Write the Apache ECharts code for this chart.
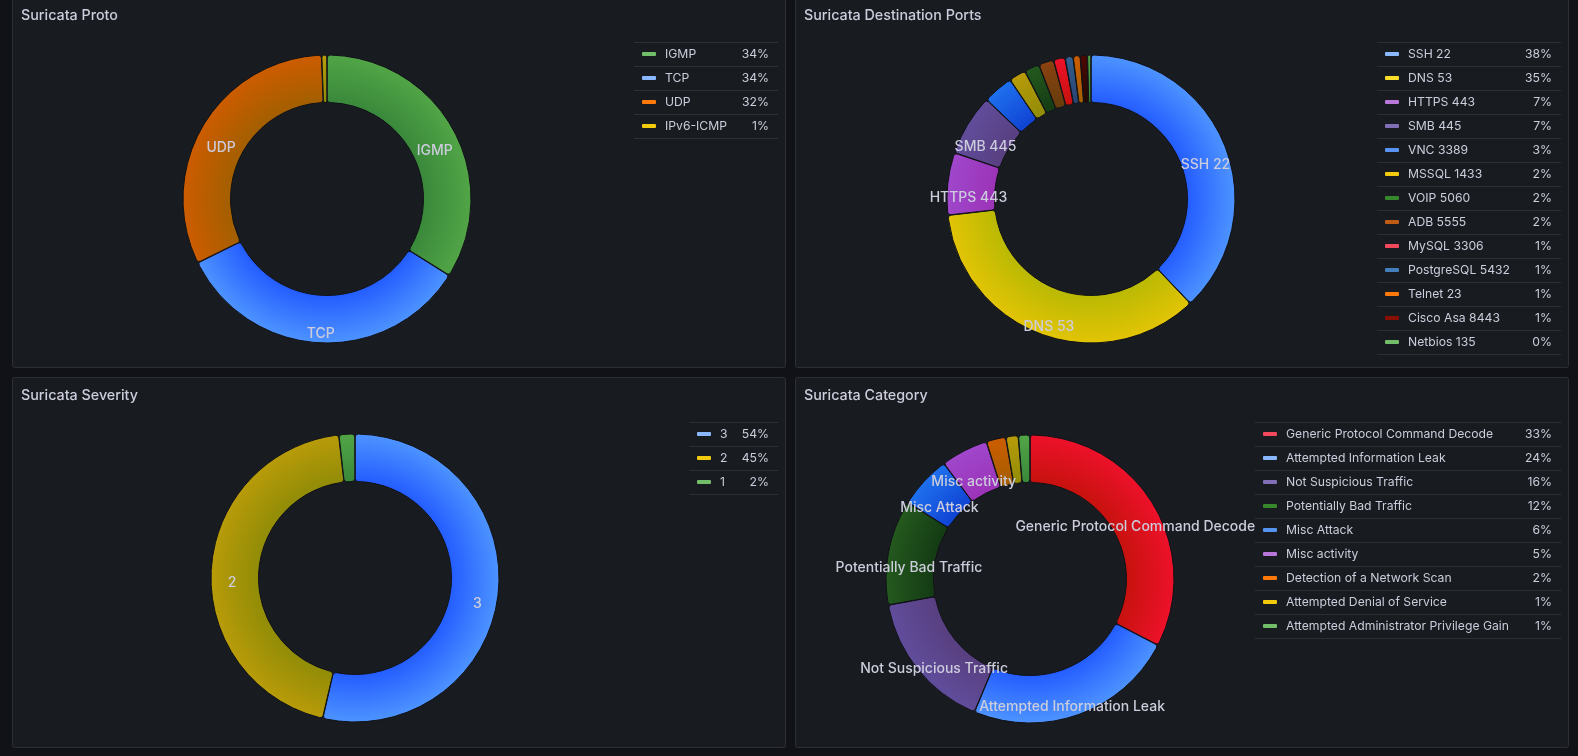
<!DOCTYPE html>
<html>
<head>
<meta charset="utf-8">
<title>Suricata</title>
<script src="https://cdn.jsdelivr.net/npm/echarts@6/dist/echarts.min.js"></script>
<style>
  html, body { margin: 0; padding: 0; background: #111217; }
  #main { width: 1578px; height: 756px; }
</style>
</head>
<body>
<div id="main"></div>
<script>
// ---- data ----
var protoNames = ['IGMP', 'TCP', 'UDP', 'IPv6-ICMP'];
var protoValues = [3390, 3380, 3170, 60];
var protoColors = ['#73BF69', '#8AB8FF', '#FF780A', '#F2CC0C'];

var portNames = ['SSH 22', 'DNS 53', 'HTTPS 443', 'SMB 445', 'VNC 3389', 'MSSQL 1433', 'VOIP 5060',
  'ADB 5555', 'MySQL 3306', 'PostgreSQL 5432', 'Telnet 23', 'Cisco Asa 8443', 'Netbios 135'];
var portValues = [379, 353, 70, 69, 34, 19, 17, 17, 13, 9, 8, 8, 4];
var portColors = ['#8AB8FF', '#FADE2A', '#B877D9', '#806EB7', '#5794F2', '#F2CC0C', '#37872D',
  '#C15C17', '#F2495C', '#447EBC', '#FF780A', '#890F02', '#73BF69'];

var severityNames = ['3', '2', '1'];
var severityValues = [536, 446, 18];
var severityColors = ['#8AB8FF', '#F2CC0C', '#73BF69'];

var categoryNames = ['Generic Protocol Command Decode', 'Attempted Information Leak', 'Not Suspicious Traffic',
  'Potentially Bad Traffic', 'Misc Attack', 'Misc activity', 'Detection of a Network Scan',
  'Attempted Denial of Service', 'Attempted Administrator Privilege Gain'];
var categoryValues = [326, 237, 158, 118, 59, 53, 22, 14, 13];
var categoryColors = ['#F2495C', '#8AB8FF', '#806EB7', '#37872D', '#5794F2', '#B877D9', '#FF780A', '#F2CC0C', '#73BF69'];

// ---- layout ----
var PANEL_W = 774, PANEL_H = 371;
var R_IN = 96.5, R_OUT = 144;
var TEXT = '#ccccdc';
var FONT = 'Inter, "Noto Sans", sans-serif';

var panels = [
  { title: 'Suricata Proto', x: 12, y: -3, names: protoNames, values: protoValues, colors: protoColors,
    cx: 327, cy: 199, lgLeft: 634, lgRight: 778, nameW: 64, pctW: 40 },
  { title: 'Suricata Destination Ports', x: 795, y: -3, names: portNames, values: portValues, colors: portColors,
    cx: 1091, cy: 199, lgLeft: 1377, lgRight: 1561, nameW: 104, pctW: 40 },
  { title: 'Suricata Severity', x: 12, y: 377, names: severityNames, values: severityValues, colors: severityColors,
    cx: 355, cy: 578, lgLeft: 689, lgRight: 778, nameW: 14, pctW: 35 },
  { title: 'Suricata Category', x: 795, y: 377, names: categoryNames, values: categoryValues, colors: categoryColors,
    cx: 1030, cy: 579, lgLeft: 1255, lgRight: 1561, nameW: 226, pctW: 40 }
];

// darken / spin like tinycolor, for the slice gradient
function shade(hex, darken, spin) {
  var r = parseInt(hex.substr(1, 2), 16) / 255, g = parseInt(hex.substr(3, 2), 16) / 255, b = parseInt(hex.substr(5, 2), 16) / 255;
  var max = Math.max(r, g, b), min = Math.min(r, g, b), h = 0, s = 0, l = (max + min) / 2, d = max - min;
  if (d > 0) {
    s = l > 0.5 ? d / (2 - max - min) : d / (max + min);
    if (max === r) h = (g - b) / d + (g < b ? 6 : 0);
    else if (max === g) h = (b - r) / d + 2;
    else h = (r - g) / d + 4;
    h *= 60;
  }
  l = Math.min(1, Math.max(0, l - darken / 100));
  h = ((h + spin) % 360 + 360) % 360;
  var c = (1 - Math.abs(2 * l - 1)) * s, x = c * (1 - Math.abs((h / 60) % 2 - 1)), m = l - c / 2, rgb;
  if (h < 60) rgb = [c, x, 0]; else if (h < 120) rgb = [x, c, 0]; else if (h < 180) rgb = [0, c, x];
  else if (h < 240) rgb = [0, x, c]; else if (h < 300) rgb = [x, 0, c]; else rgb = [c, 0, x];
  return 'rgb(' + rgb.map(function (v) { return Math.round((v + m) * 255); }).join(',') + ')';
}

function sliceFill(p, color) {
  var from = shade(color, 20, 8), to = shade(color, 12, 0);
  return new echarts.graphic.RadialGradient(p.cx, p.cy, R_OUT, [
    { offset: 0, color: from },
    { offset: R_IN / R_OUT, color: from },
    { offset: 1, color: to }
  ], true);
}

var option = {
  backgroundColor: '#111217',
  animation: false,
  title: [],
  legend: [],
  series: [],
  graphic: []
};

panels.forEach(function (p) {
  option.graphic.push({
    type: 'rect', silent: true, z: -10,
    shape: { x: p.x + 0.5, y: p.y + 0.5, width: PANEL_W - 1, height: PANEL_H - 1, r: 2 },
    style: { fill: '#181b1f', stroke: '#2c2f35', lineWidth: 1 }
  });

  option.title.push({
    text: p.title, left: p.x + 9, top: p.y + 11, padding: 0,
    textStyle: { color: TEXT, fontSize: 14.3, fontWeight: 500, fontFamily: FONT, lineHeight: 16 }
  });

  var total = p.values.reduce(function (a, b) { return a + b; }, 0);
  var pct = {};
  var data = p.names.map(function (n, i) {
    var frac = p.values[i] / total;
    pct[n] = Math.round(frac * 100) + '%';
    return {
      name: n,
      value: p.values[i],
      itemStyle: { color: sliceFill(p, p.colors[i]) },
      // grafana hides labels on slices thinner than 0.3 rad
      label: { show: frac * 2 * Math.PI >= 0.3 }
    };
  });

  option.series.push({
    type: 'pie',
    center: [p.cx, p.cy],
    radius: [R_IN, R_OUT],
    startAngle: 90,
    clockwise: true,
    padAngle: 0.2,
    silent: true,
    itemStyle: { borderColor: '#111217', borderWidth: 1, borderRadius: 3 },
    label: {
      position: 'inside', formatter: '{b}', color: TEXT, fontSize: 14, fontWeight: 500,
      fontFamily: FONT, textBorderWidth: 0, offset: [0, 12]
    },
    labelLine: { show: false },
    data: data
  });

  option.legend.push({
    orient: 'vertical',
    left: p.lgLeft + 8,
    top: p.y + 45 + 4,
    padding: 0,
    itemGap: 8,
    itemWidth: 14,
    itemHeight: 4,
    icon: 'roundRect',
    selectedMode: false,
    itemStyle: { borderWidth: 0 },
    data: p.names.map(function (n, i) { return { name: n, itemStyle: { color: p.colors[i], borderWidth: 0 } }; }),
    formatter: function (name) { return '{n|' + name + '}{v|' + pct[name] + '}'; },
    textStyle: {
      color: TEXT, fontSize: 12.2, fontFamily: FONT, lineHeight: 16,
      rich: {
        n: { width: p.nameW, padding: [0, 0, 0, 4], color: TEXT, fontSize: 12.2, fontFamily: FONT, lineHeight: 16 },
        v: { width: p.pctW, align: 'right', color: TEXT, fontSize: 12.2, fontFamily: FONT, lineHeight: 16 }
      }
    }
  });

  // table row separators of the legend
  for (var k = 0; k <= p.names.length; k++) {
    var y = p.y + 45 + 24 * k + 0.5;
    option.graphic.push({
      type: 'line', silent: true, z: -5,
      shape: { x1: p.lgLeft, y1: y, x2: p.lgRight, y2: y },
      style: { stroke: '#2c2f35', lineWidth: 1 }
    });
  }
});

var myChart = echarts.init(document.getElementById('main'));
myChart.setOption(option);
</script>
</body>
</html>
